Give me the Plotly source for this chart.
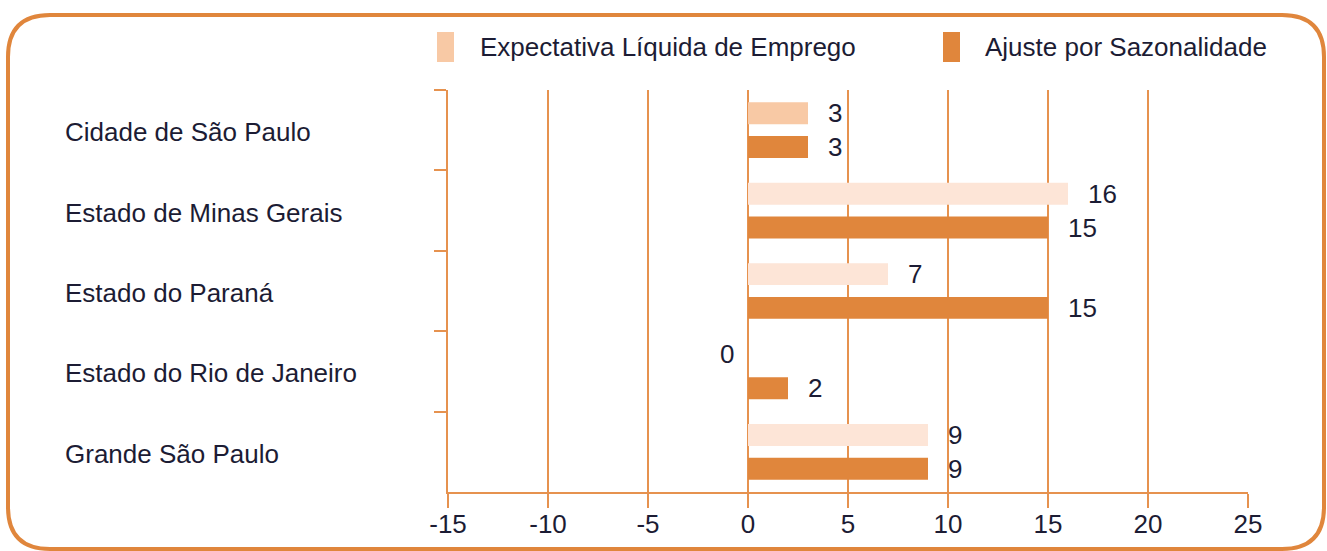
import plotly.graph_objects as go

categories = ["Cidade de São Paulo", "Estado de Minas Gerais", "Estado do Paraná",
              "Estado do Rio de Janeiro", "Grande São Paulo"]
expectativa = [3, 16, 7, 0, 9]
ajuste = [3, 15, 15, 2, 9]
series_names = ["Expectativa Líquida de Emprego", "Ajuste por Sazonalidade"]
x_ticks = [-15, -10, -5, 0, 5, 10, 15, 20, 25]

W, H = 1327, 551
ML, MR, MT, MB = 448, 79, 90, 59
PW, PH = W - ML - MR, H - MT - MB

ORANGE = "#E0863C"
LINE = "#E6924F"
LIGHT1 = "#F8C9A5"
LIGHT2 = "#FDE5D7"
TEXT = "#1c1c34"
FONT = "Liberation Sans"
FS = 26

def px_x(p):
    return (p - ML) / PW

def px_y(p):
    return (H - MB - p) / PH

light_colors = [LIGHT1] + [LIGHT2] * (len(categories) - 1)

fig = go.Figure()
fig.add_trace(go.Bar(y=categories, x=expectativa, orientation="h", name=series_names[0],
                     marker=dict(color=light_colors, line=dict(width=0)), showlegend=False))
fig.add_trace(go.Bar(y=categories, x=ajuste, orientation="h", name=series_names[1],
                     marker=dict(color=ORANGE, line=dict(width=0)), showlegend=False))

annotations = []
# value labels
for vals, shift in ((expectativa, 17), (ajuste, -17)):
    for c, v in zip(categories, vals):
        if v == 0:
            annotations.append(dict(x=v, y=c, xref="x", yref="y", text=str(v), showarrow=False,
                                    xanchor="right", yanchor="middle", xshift=-12, yshift=shift,
                                    font=dict(family=FONT, size=FS, color=TEXT)))
        else:
            annotations.append(dict(x=v, y=c, xref="x", yref="y", text=str(v), showarrow=False,
                                    xanchor="left", yanchor="middle", xshift=18, yshift=shift,
                                    font=dict(family=FONT, size=FS, color=TEXT)))
# category labels (left aligned)
for c in categories:
    annotations.append(dict(x=px_x(63), y=c, xref="paper", yref="y", text=c, showarrow=False,
                            xanchor="left", yanchor="middle", yshift=-2,
                            font=dict(family=FONT, size=FS, color=TEXT)))
# legend
shapes = []
legend_items = [(437, 478, LIGHT1, series_names[0]), (943, 983, ORANGE, series_names[1])]
for sx, tx, col, name in legend_items:
    shapes.append(dict(type="rect", xref="paper", yref="paper",
                       x0=px_x(sx), x1=px_x(sx + 17), y0=px_y(62), y1=px_y(32),
                       fillcolor=col, line=dict(width=0), layer="above"))
    annotations.append(dict(x=px_x(tx), y=px_y(47), xref="paper", yref="paper", text=name,
                            showarrow=False, xanchor="left", yanchor="middle",
                            font=dict(family=FONT, size=FS, color=TEXT)))

# rounded border
L, T, R, B, r = 8, 15, 1324, 549, 42
pts = [
    ("M", (L + r, T)), ("L", (R - r, T)), ("Q", (R, T), (R, T + r)),
    ("L", (R, B - r)), ("Q", (R, B), (R - r, B)), ("L", (L + r, B)),
    ("Q", (L, B), (L, B - r)), ("L", (L, T + r)), ("Q", (L, T), (L + r, T)),
]
path = ""
for item in pts:
    cmd = item[0]
    coords = " ".join(f"{px_x(p[0]):.5f},{px_y(p[1]):.5f}" for p in item[1:])
    path += f"{cmd}{coords} "
path += "Z"
shapes.append(dict(type="path", xref="paper", yref="paper", path=path,
                   line=dict(color=ORANGE, width=4), fillcolor="rgba(0,0,0,0)", layer="above"))

fig.update_layout(
    width=W, height=H, autosize=False,
    margin=dict(l=ML, r=MR, t=MT, b=MB, pad=0, autoexpand=False),
    paper_bgcolor="white", plot_bgcolor="white",
    barmode="group", bargap=0.16, bargroupgap=0.35,
    font=dict(family=FONT, size=FS, color=TEXT),
    annotations=annotations, shapes=shapes,
    showlegend=False,
    xaxis=dict(range=[-15, 25], tickvals=x_ticks, ticktext=[str(t) for t in x_ticks],
               automargin=False, ticklabelstandoff=-6,
               showgrid=True, gridcolor=LINE, gridwidth=1.5, zeroline=False,
               showline=True, linecolor=LINE, linewidth=2,
               ticks="outside", ticklen=14, tickwidth=2, tickcolor=LINE,
               tickfont=dict(family=FONT, size=FS, color=TEXT), fixedrange=True),
    yaxis=dict(type="category", categoryorder="array", categoryarray=categories,
               automargin=False,
               range=[len(categories) - 0.5, -0.5], showgrid=False, zeroline=False,
               showline=True, linecolor=LINE, linewidth=2,
               ticks="outside", tickson="boundaries", ticklen=12, tickwidth=2,
               tickcolor=LINE, showticklabels=False, fixedrange=True),
)

fig.write_html("out.html", config={"displayModeBar": False, "responsive": False},
               post_script="document.body.style.margin='0';document.body.style.overflow='hidden';")
